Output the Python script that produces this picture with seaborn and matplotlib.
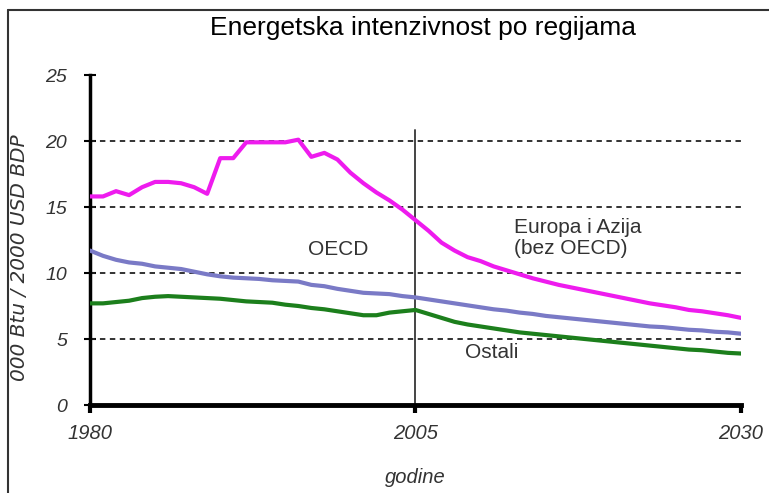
import numpy as np
import pandas as pd
import seaborn as sns
import matplotlib
matplotlib.use("Agg")
import matplotlib.pyplot as plt
from matplotlib.lines import Line2D
from matplotlib import font_manager

years = list(range(1980, 2031))

europa_azija = [15.8, 15.8, 16.2, 15.9, 16.5, 16.9, 16.9, 16.8, 16.5, 16.0,
                18.7, 18.7, 19.9, 19.9, 19.9, 19.9, 20.1, 18.8, 19.1, 18.6,
                17.6, 16.8, 16.1, 15.5, 14.8, 14.0, 13.2, 12.3, 11.7, 11.2,
                10.9, 10.5, 10.2, 9.9, 9.6, 9.35, 9.1, 8.9, 8.7, 8.5,
                8.3, 8.1, 7.9, 7.7, 7.55, 7.4, 7.2, 7.1, 6.95, 6.8, 6.6]

oecd = [11.7, 11.3, 11.0, 10.8, 10.7, 10.5, 10.4, 10.3, 10.1, 9.9,
        9.75, 9.65, 9.6, 9.55, 9.45, 9.4, 9.35, 9.1, 9.0, 8.8,
        8.65, 8.5, 8.45, 8.4, 8.25, 8.15, 8.0, 7.85, 7.7, 7.55,
        7.4, 7.25, 7.15, 7.0, 6.9, 6.75, 6.65, 6.55, 6.45, 6.35,
        6.25, 6.15, 6.05, 5.95, 5.9, 5.8, 5.7, 5.65, 5.55, 5.5, 5.4]

ostali = [7.7, 7.7, 7.8, 7.9, 8.1, 8.2, 8.25, 8.2, 8.15, 8.1,
          8.05, 7.95, 7.85, 7.8, 7.75, 7.6, 7.5, 7.35, 7.25, 7.1,
          6.95, 6.8, 6.8, 7.0, 7.1, 7.2, 6.9, 6.6, 6.3, 6.1,
          5.95, 5.8, 5.65, 5.5, 5.4, 5.3, 5.2, 5.1, 5.0, 4.9,
          4.8, 4.7, 4.6, 4.5, 4.4, 4.3, 4.2, 4.15, 4.05, 3.95, 3.9]

series_names = ["Europa i Azija (bez OECD)", "OECD", "Ostali"]
series_colors = ["#EE1BEE", "#7A7AC6", "#1C7F1C"]
x_ticks = [1980, 2005, 2030]
y_ticks = [0, 5, 10, 15, 20, 25]

df = pd.DataFrame({
    "godina": years * 3,
    "vrijednost": europa_azija + oecd + ostali,
    "regija": [series_names[0]] * len(years) + [series_names[1]] * len(years) + [series_names[2]] * len(years),
})

sns.set_theme(style="white")
names = {f.name for f in font_manager.fontManager.ttflist}
main_font = "Liberation Sans" if "Liberation Sans" in names else "DejaVu Sans"
plt.rcParams["font.family"] = [main_font, "DejaVu Sans"]

W, H = 769, 493
fig = plt.figure(figsize=(W / 100, H / 100), dpi=100)
ax = fig.add_axes([90 / W, 1 - 405 / H, (741 - 90) / W, (405 - 75) / H])

# grid lines
for v in [5, 10, 15, 20]:
    ax.axhline(v, color="#222222", lw=1.3, ls=(0, (3, 2.5)), zorder=1)
# vertical 2005 line
ax.plot([2005, 2005], [0, 20.8], color="#444444", lw=1.4, zorder=2)

sns.lineplot(data=df, x="godina", y="vrijednost", hue="regija",
             hue_order=series_names, palette=series_colors,
             linewidth=3.0, legend=False, ax=ax, zorder=3)

ax.set_xlim(1980, 2030)
ax.set_ylim(0, 25)
ax.set_xticks(x_ticks)
ax.set_yticks(y_ticks)
ax.set_xticklabels([str(t) for t in x_ticks], fontsize=14.5, style="italic", color="#333333")
ax.set_yticklabels([str(t) for t in y_ticks], fontsize=14, style="italic", color="#333333")
ax.tick_params(axis="x", bottom=True, direction="out", length=6, width=3, color="black", pad=8)
ax.tick_params(axis="y", left=True, direction="inout", length=9, width=1.5, color="black", pad=12)
for s in ["top", "right"]:
    ax.spines[s].set_visible(False)
ax.spines["left"].set_linewidth(2.5)
ax.spines["bottom"].set_linewidth(3.5)
ax.spines["left"].set_color("black")
ax.spines["bottom"].set_color("black")
ax.set_xlabel("godine", fontsize=14.5, style="italic", color="#333333", labelpad=18)
ax.set_ylabel("000 Btu / 2000 USD BDP", fontsize=14.5, style="italic", color="#333333",
              family=["DejaVu Sans"])
ax.yaxis.set_label_coords((29 - 90) / 651, (405 - 258) / 330)
ax.set_facecolor("white")

ax.text(1999.05, 11.8, "OECD", fontsize=15, color="#333333", ha="center", va="center")
ax.text(2012.6, 12.65, "Europa i Azija\n(bez OECD)", fontsize=15, color="#333333",
        ha="left", va="center", linespacing=1.15)
ax.text(2008.8, 4.0, "Ostali", fontsize=15, color="#333333", ha="left", va="center")

fig.text(423 / W, 1 - 35 / H, "Energetska intenzivnost po regijama", fontsize=19,
         color="black", ha="center", va="baseline")

# outer frame (top and left)
fig.add_artist(Line2D([8 / W, 8 / W], [0, 1 - 10 / H], color="#333333", lw=1.5, transform=fig.transFigure))
fig.add_artist(Line2D([8 / W, 1], [1 - 10 / H, 1 - 10 / H], color="#333333", lw=1.5, transform=fig.transFigure))

fig.savefig("out.png", dpi=100, facecolor="white")
